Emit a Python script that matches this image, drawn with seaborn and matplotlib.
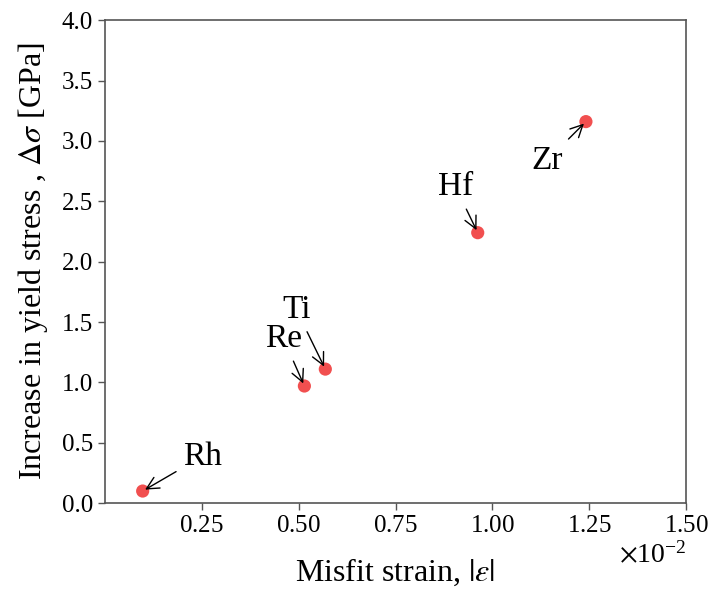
import matplotlib
matplotlib.use("Agg")
import matplotlib.pyplot as plt
import seaborn as sns
import pandas as pd
from matplotlib.ticker import ScalarFormatter

# Misfit strain |eps| and yield-stress increase for each solute
elements = ["Rh", "Re", "Ti", "Hf", "Zr"]
misfit_strain = [0.00098, 0.00515, 0.00569, 0.00962, 0.01241]
delta_sigma = [0.10, 0.97, 1.11, 2.24, 3.16]

# label anchor offsets (points) for the annotation text of each element
label_offsets = {"Rh": (43, 25), "Re": (-15, 34), "Ti": (-21, 37), "Hf": (-16, 33), "Zr": (-28, -28)}

df = pd.DataFrame({"element": elements, "strain": misfit_strain, "dsigma": delta_sigma})

sns.set_style("ticks")
plt.rcParams["font.family"] = ["Liberation Serif", "DejaVu Serif"]
plt.rcParams["mathtext.fontset"] = "stix"
plt.rcParams["text.color"] = "black"
plt.rcParams["axes.labelcolor"] = "black"

fig = plt.figure(figsize=(7.12, 5.94), dpi=100)
ax = fig.add_axes([0.147, 0.153, 0.817, 0.813])

sns.scatterplot(data=df, x="strain", y="dsigma", ax=ax, color="#f03c3c",
                s=90, edgecolor="none", alpha=0.9, legend=False, zorder=3)

for _, row in df.iterrows():
    dx, dy = label_offsets[row["element"]]
    ax.annotate(row["element"], xy=(row["strain"], row["dsigma"]),
                xytext=(dx, dy), textcoords="offset points",
                ha="center", va="baseline" if row["element"] == "Ti" else "center",
                fontsize=24, color="black",
                arrowprops=dict(arrowstyle="->", color="black", lw=1.0,
                                shrinkA=3, shrinkB=2, mutation_scale=22))

ax.set_xlim(0, 0.015)
ax.set_ylim(0, 4.0)
ax.set_xticks([0.0025, 0.005, 0.0075, 0.01, 0.0125, 0.015])
ax.set_yticks([0.0, 0.5, 1.0, 1.5, 2.0, 2.5, 3.0, 3.5, 4.0])

fmt = ScalarFormatter(useMathText=True)
fmt.set_powerlimits((-1, 1))
ax.xaxis.set_major_formatter(fmt)
ax.yaxis.set_major_formatter(plt.FormatStrFormatter("%.1f"))

ax.tick_params(axis="both", labelsize=18, colors="#555555", labelcolor="black",
               length=5, width=1)
ax.xaxis.get_offset_text().set_fontsize(20)
ax.xaxis.get_offset_text().set_color("black")

for side in ["left", "bottom", "top", "right"]:
    ax.spines[side].set_color("#555555")
    ax.spines[side].set_linewidth(1.2)
    ax.spines[side].set_visible(True)

ax.set_xlabel(r"Misfit strain, $|\varepsilon|$", fontsize=23, labelpad=14)
ax.set_ylabel(r"Increase in yield stress , $\mathit{\Delta}\sigma$ [GPa]", fontsize=23, labelpad=8)

fig.savefig("out.png", dpi=100)
